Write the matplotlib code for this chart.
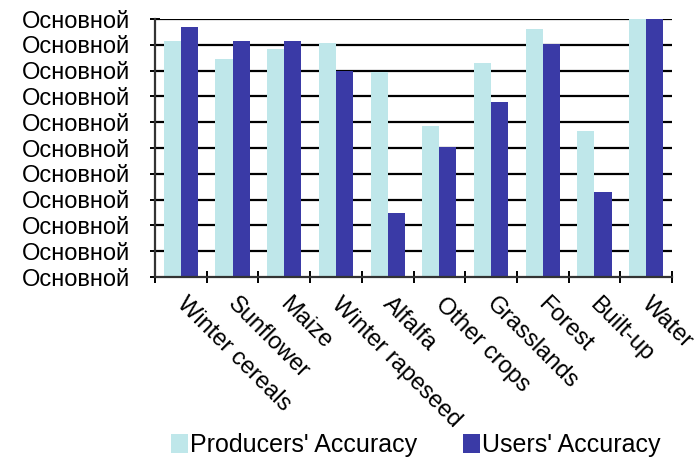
"""
Producers' vs Users' accuracy per land-cover class
"""
import numpy as np
import matplotlib.pyplot as plt

################################################################################
# Data
################################################################################
CLASSES     = ["Winter cereals", "Sunflower", "Maize", "Winter rapeseed", "Alfalfa",
               "Other crops", "Grasslands", "Forest", "Built-up", "Water"]
PRODUCERS   = [91.5, 84.5, 88.3, 90.6, 79.6, 58.6, 83.1, 96.0, 56.7, 100.0]
USERS       = [96.8, 91.5, 91.6, 80.0, 24.7, 50.5, 67.7, 90.3, 32.8, 100.0]
Y_TICKS     = np.arange(0, 101, 10)
Y_LABEL_TXT = "Основной"

COL_PROD    = "#BFE7EA"
COL_USER    = "#3A3AA6"

plt.rcParams['font.family'] = ['Liberation Sans', 'DejaVu Sans']

################################################################################
# Figure
################################################################################
fig = plt.figure(figsize = (6.97, 4.61), dpi = 100)
ax  = fig.add_axes([155/697, 1 - 277/461, (672 - 155)/697, (277 - 19)/461])

x   = np.arange(len(CLASSES))
w   = 0.33
ax.bar(x - w/2, PRODUCERS, width = w, color = COL_PROD, label = "Producers' Accuracy", zorder = 2)
ax.bar(x + w/2, USERS,     width = w, color = COL_USER, label = "Users' Accuracy",     zorder = 2)

ax.set_xlim(-0.5, len(CLASSES) - 0.5)
ax.set_ylim(0, 100)
ax.set_yticks(Y_TICKS)
ax.set_yticklabels([Y_LABEL_TXT] * len(Y_TICKS), fontsize = 17)
for yv in Y_TICKS[1:]:
    ax.axhline(yv, color = "black", lw = 1.6, zorder = 1)

# category boundaries get the tick marks, labels sit on minor ticks nudged right
ax.set_xticks(np.arange(len(CLASSES) + 1) - 0.5)
ax.set_xticklabels([])
ax.set_xticks(x + 0.13, minor = True)
ax.set_xticklabels(CLASSES, minor = True, rotation = -45, ha = "left", va = "top",
                   rotation_mode = "anchor", fontsize = 17)
ax.tick_params(axis = "x", which = "minor", length = 0, pad = 11.5)
ax.tick_params(axis = "x", which = "major", length = 8, width = 1.4, direction = "inout")
ax.tick_params(axis = "y", length = 7, width = 1.4, direction = "inout", pad = 14.5)

for side in ["top", "right"]:
    ax.spines[side].set_visible(False)
for side in ["left", "bottom"]:
    ax.spines[side].set_color("#333333")
    ax.spines[side].set_linewidth(1.6)

fig.legend(loc = "center", bbox_to_anchor = (416/697, 1 - 445/461), ncol = 2,
           frameon = False, fontsize = 18, handlelength = 0.65, handleheight = 0.8,
           handletextpad = 0.1, columnspacing = 1.85)

fig.savefig("out.png", dpi = 100)
